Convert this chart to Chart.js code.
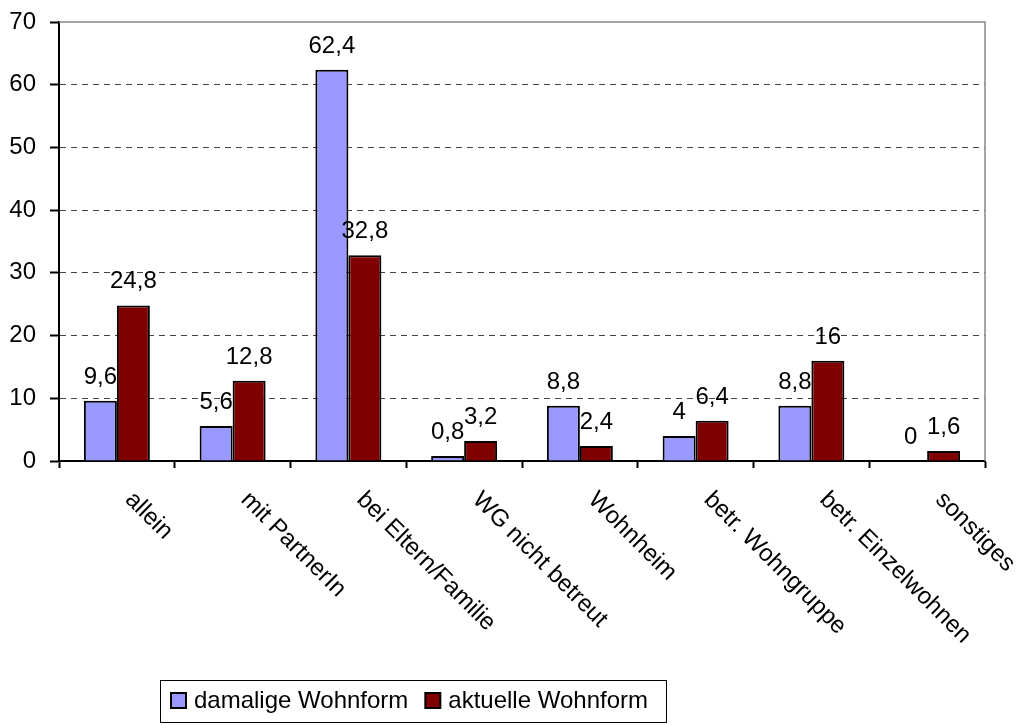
<!DOCTYPE html>
<html>
<head>
<meta charset="utf-8">
<script src="https://cdn.jsdelivr.net/npm/chart.js@4/dist/chart.umd.min.js"></script>
<style>
  html, body { margin: 0; padding: 0; background: #fff; }
  #wrap { width: 1019px; height: 725px; }
</style>
</head>
<body>
<div id="wrap"><canvas id="c" width="1019" height="725"></canvas></div>
<script>
let categories = ['allein', 'mit PartnerIn', 'bei Eltern/Familie', 'WG nicht betreut',
    'Wohnheim', 'betr. Wohngruppe', 'betr. Einzelwohnen', 'sonstiges'];
let damalige = [9.6, 5.6, 62.4, 0.8, 8.8, 4, 8.8, 0];
let aktuelle = [24.8, 12.8, 32.8, 3.2, 2.4, 6.4, 16, 1.6];
let seriesNames = ['damalige Wohnform', 'aktuelle Wohnform'];
let yTicks = [0, 10, 20, 30, 40, 50, 60, 70];

const FAMILY = '"Liberation Sans", Arial, sans-serif';
const FONT = '24px ' + FAMILY;

function fmt(v) {
    return String(v).replace('.', ',');
}

// values over the bars
const valueLabels = {
    id: 'valueLabels',
    afterDatasetsDraw(chart) {
        const ctx = chart.ctx;
        ctx.save();
        ctx.font = FONT;
        ctx.fillStyle = '#000';
        ctx.textAlign = 'center';
        ctx.textBaseline = 'alphabetic';
        chart.data.datasets.forEach((ds, di) => {
            chart.getDatasetMeta(di).data.forEach((bar, i) => {
                ctx.fillText(fmt(ds.data[i]), bar.x, bar.y - 17);
            });
        });
        ctx.restore();
    }
};

// plot frame, rotated category names, boxed legend
const extras = {
    id: 'extras',
    afterDraw(chart) {
        const ctx = chart.ctx;
        const a = chart.chartArea;
        const xs = chart.scales.x;
        ctx.save();
        ctx.strokeStyle = '#888';
        ctx.lineWidth = 1.5;
        ctx.beginPath();
        ctx.moveTo(a.left, a.top);
        ctx.lineTo(a.right, a.top);
        ctx.lineTo(a.right, a.bottom);
        ctx.stroke();

        ctx.font = FONT;
        ctx.fillStyle = '#000';
        ctx.textAlign = 'left';
        ctx.textBaseline = 'middle';
        categories.forEach((c, i) => {
            ctx.save();
            ctx.translate(xs.getPixelForValue(i) + 12, xs.top + 35);
            ctx.rotate(Math.PI / 4);
            ctx.fillText(c, 0, 0);
            ctx.restore();
        });

        // legend
        ctx.lineWidth = 1;
        ctx.strokeStyle = '#000';
        ctx.strokeRect(160.5, 680.5, 506, 42);
        let x = 171;
        ctx.textBaseline = 'middle';
        chart.data.datasets.forEach((ds) => {
            ctx.fillStyle = ds.backgroundColor;
            ctx.fillRect(x, 693, 15, 15);
            ctx.lineWidth = 2;
            ctx.strokeRect(x, 693, 15, 15);
            ctx.fillStyle = '#000';
            ctx.fillText(ds.label, x + 23, 701);
            x += 23 + ctx.measureText(ds.label).width + 17;
        });
        ctx.restore();
    }
};

new Chart(document.getElementById('c'), {
    type: 'bar',
    data: {
        labels: categories,
        datasets: [
            { label: seriesNames[0], data: damalige, backgroundColor: '#9999FF',
              borderColor: '#000', borderWidth: 2 },
            { label: seriesNames[1], data: aktuelle, backgroundColor: '#800000',
              borderColor: '#000', borderWidth: 2 }
        ]
    },
    options: {
        responsive: false,
        animation: false,
        layout: { padding: { top: 0, right: 34, left: 0, bottom: 0 } },
        datasets: { bar: { categoryPercentage: 0.57, barPercentage: 1 } },
        plugins: {
            legend: { display: false },
            tooltip: { enabled: false }
        },
        scales: {
            x: {
                afterFit: s => { s.height = 264; },
                ticks: { display: false },
                grid: { offset: true, drawOnChartArea: false, drawTicks: true,
                        tickLength: 7, tickColor: '#000', tickWidth: 2 },
                border: { color: '#000', width: 2 }
            },
            y: {
                min: 0, max: 70,
                afterFit: s => { s.width = 59; },
                afterBuildTicks: s => { s.ticks = yTicks.map(v => ({ value: v })); },
                ticks: { padding: 14, color: '#000',
                         font: { family: FAMILY, size: 24, lineHeight: 0.667 } },
                grid: {
                    color: c => (c.tick && (c.tick.value === 0 || c.tick.value === 70)) ? 'rgba(0,0,0,0)' : '#444',
                    lineWidth: 1,
                    tickLength: 9, tickColor: '#000', tickWidth: 2, tickBorderDash: []
                },
                border: { color: '#000', width: 2, dash: [6, 5] }
            }
        }
    },
    plugins: [valueLabels, extras]
});
</script>
</body>
</html>
